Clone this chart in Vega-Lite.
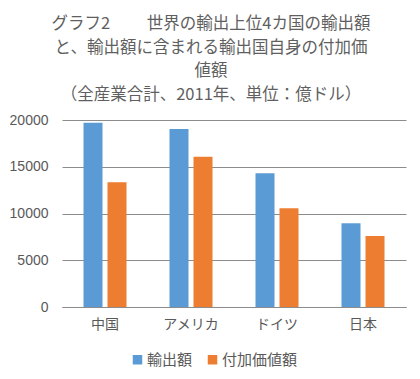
{
  "$schema": "https://vega.github.io/schema/vega-lite/v6.json",
  "width": 344,
  "height": 187,
  "autosize": "none",
  "padding": {"left": 62, "top": 120, "right": 14, "bottom": 72},
  "background": "white",
  "title": {
    "text": ["グラフ2\u3000 \u3000世界の輸出上位4カ国の輸出額", "と、輸出額に含まれる輸出国自身の付加価", "値額", "（全産業合計、2011年、単位：億ドル）"],
    "font": "Noto Sans CJK JP",
    "fontSize": 16.5,
    "fontWeight": "normal",
    "color": "#5f5f5f",
    "lineHeight": 23.5,
    "anchor": "middle",
    "frame": "group",
    "dx": -23,
    "offset": 10
  },
  "data": {
    "values": [
      {"country": "中国", "series": "輸出額", "value": 19700},
      {"country": "中国", "series": "付加価値額", "value": 13340},
      {"country": "アメリカ", "series": "輸出額", "value": 19040},
      {"country": "アメリカ", "series": "付加価値額", "value": 16080},
      {"country": "ドイツ", "series": "輸出額", "value": 14300},
      {"country": "ドイツ", "series": "付加価値額", "value": 10560},
      {"country": "日本", "series": "輸出額", "value": 8950},
      {"country": "日本", "series": "付加価値額", "value": 7590}
    ]
  },
  "mark": {"type": "bar"},
  "encoding": {
    "x": {
      "field": "country",
      "type": "nominal",
      "sort": ["中国", "アメリカ", "ドイツ", "日本"],
      "scale": {"paddingInner": 0, "paddingOuter": 0},
      "axis": {
        "title": null,
        "labelAngle": 0,
        "labelFont": "Noto Sans CJK JP",
        "labelFontSize": 14,
        "labelColor": "#595959",
        "labelPadding": 10,
        "ticks": false,
        "domainColor": "#8c8c8c",
        "domainWidth": 1,
        "grid": false
      }
    },
    "xOffset": {
      "field": "series",
      "type": "nominal",
      "sort": ["輸出額", "付加価値額"],
      "scale": {"paddingInner": 0.208, "paddingOuter": 0.896}
    },
    "y": {
      "field": "value",
      "type": "quantitative",
      "scale": {"domain": [0, 20000]},
      "axis": {
        "title": null,
        "values": [0, 5000, 10000, 15000, 20000],
        "format": "d",
        "labelFont": "Liberation Sans",
        "labelFontSize": 14,
        "labelColor": "#595959",
        "labelPadding": 14,
        "ticks": false,
        "domain": false,
        "gridColor": "#8c8c8c",
        "gridWidth": 1
      }
    },
    "color": {
      "field": "series",
      "type": "nominal",
      "sort": ["輸出額", "付加価値額"],
      "scale": {"domain": ["輸出額", "付加価値額"], "range": ["#5B9BD5", "#ED7D31"]},
      "legend": {
        "title": null,
        "orient": "none",
        "legendX": 68,
        "legendY": 232,
        "direction": "horizontal",
        "symbolType": "square",
        "symbolSize": 90,
        "symbolStrokeWidth": 0,
        "labelFont": "Noto Sans CJK JP",
        "labelFontSize": 15,
        "labelColor": "#595959",
        "labelOffset": 2,
        "columnPadding": 12
      }
    }
  },
  "config": {"view": {"stroke": null}}
}
